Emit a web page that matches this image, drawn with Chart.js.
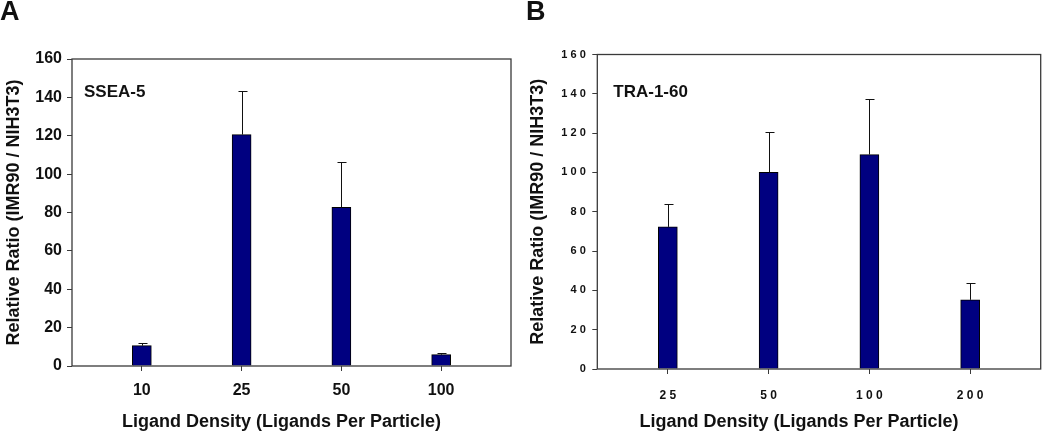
<!DOCTYPE html>
<html>
<head>
<meta charset="utf-8">
<script src="https://cdn.jsdelivr.net/npm/chart.js@4"></script>
<style>
    body { margin: 0; background: #fff; }
    #wrap { position: relative; width: 1050px; height: 435px; }
    #panelA { position: absolute; left: 0; top: 0; }
    #panelB { position: absolute; left: 520px; top: 0; }
</style>
</head>
<body>
<div id="wrap">
    <canvas id="panelA" width="520" height="435"></canvas>
    <canvas id="panelB" width="530" height="435"></canvas>
</div>
<script>
// panel A - SSEA-5
const densityA = ['10', '25', '50', '100'];
const ratioA = [10.6, 120.6, 82.7, 5.9];
const errA = [1.4, 22.8, 23.5, 0.7];

// panel B - TRA-1-60
const densityB = ['25', '50', '100', '200'];
const ratioB = [72.3, 100.0, 109.1, 35.2];
const errB = [11.4, 20.6, 28.2, 8.5];

const yTicks = [0, 20, 40, 60, 80, 100, 120, 140, 160];

const FONT = "'Liberation Sans', Arial, sans-serif";
const NAVY = '#000080';
const FRAME = '#3a3a3a';

const spaced = (s) => String(s).split('').join(' ');

// box around the plot, error bars, marker text and panel letter
const panelExtras = {
    id: 'panelExtras',
    afterDatasetsDraw(chart, args, opts) {
        const { ctx, chartArea: a } = chart;
        const xs = chart.scales.x;
        const ys = chart.scales.y;
        ctx.save();
        ctx.strokeStyle = '#111';
        ctx.lineWidth = 1;
        opts.values.forEach((v, i) => {
            const x = Math.round(xs.getPixelForValue(i)) + 0.5;
            const y0 = ys.getPixelForValue(v);
            const y1 = Math.round(ys.getPixelForValue(v + opts.errors[i])) + 0.5;
            ctx.beginPath();
            ctx.moveTo(x, y0);
            ctx.lineTo(x, y1);
            ctx.moveTo(x - 4, y1);
            ctx.lineTo(x + 5, y1);
            ctx.stroke();
        });
        ctx.strokeStyle = FRAME;
        ctx.lineWidth = 1.3;
        ctx.strokeRect(a.left, a.top, a.right - a.left, a.bottom - a.top);

        ctx.fillStyle = '#111';
        ctx.textBaseline = 'alphabetic';
        ctx.textAlign = 'left';
        ctx.font = `bold 17px ${FONT}`;
        ctx.fillText(opts.marker, a.left + opts.markerDx, 97);
        ctx.font = `bold 27px ${FONT}`;
        ctx.fillText(opts.letter, opts.letterX, 20);
        ctx.restore();
    },
};

function makePanel(canvasId, cfg) {
    const ticksFont = { family: FONT, size: cfg.tickSize, weight: 'bold' };
    const titleFont = { family: FONT, size: 18, weight: 'bold' };
    return new Chart(document.getElementById(canvasId), {
        type: 'bar',
        data: {
            datasets: [{
                data: cfg.values.map((v, i) => ({ x: i, y: v })),
                backgroundColor: NAVY,
                borderColor: '#000',
                borderWidth: 1,
                barThickness: 19,
            }],
        },
        options: {
            responsive: false,
            animation: false,
            layout: { padding: { top: cfg.top, right: cfg.right, left: 0, bottom: 0 } },
            plugins: {
                legend: { display: false },
                tooltip: { enabled: false },
                panelExtras: {
                    values: cfg.values,
                    errors: cfg.errors,
                    marker: cfg.marker,
                    markerDx: cfg.markerDx,
                    letter: cfg.letter,
                    letterX: cfg.letterX,
                },
            },
            scales: {
                x: {
                    type: 'linear',
                    min: -0.7,
                    max: 3.7,
                    offset: false,
                    afterBuildTicks: (scale) => {
                        scale.ticks = cfg.labels.map((_, i) => ({ value: i }));
                    },
                    afterFit: (scale) => { scale.height = cfg.xHeight; },
                    grid: { display: true, drawOnChartArea: false, offset: false, tickLength: 5, color: FRAME },
                    border: { display: false },
                    ticks: {
                        font: { ...ticksFont, size: cfg.xTickSize },
                        color: '#111',
                        padding: cfg.xPad,
                        callback: (v) => cfg.fmt(cfg.labels[v]),
                    },
                    title: {
                        display: true,
                        text: cfg.xTitle,
                        font: titleFont,
                        color: '#111',
                        padding: { top: 0, bottom: 2 },
                    },
                },
                y: {
                    min: 0,
                    max: 160,
                    afterBuildTicks: (scale) => {
                        scale.ticks = yTicks.map((v) => ({ value: v }));
                    },
                    afterFit: (scale) => { scale.width = cfg.yWidth; },
                    grid: { display: true, drawOnChartArea: false, tickLength: 5, color: FRAME },
                    border: { display: false },
                    ticks: {
                        font: ticksFont,
                        color: '#111',
                        padding: cfg.yPad,
                        callback: (v) => cfg.fmt(v),
                    },
                    title: {
                        display: true,
                        text: 'Relative Ratio (IMR90 / NIH3T3)',
                        font: titleFont,
                        color: '#111',
                        padding: { top: cfg.yTitlePad, bottom: 0 },
                    },
                },
            },
        },
        plugins: [panelExtras],
    });
}

document.addEventListener('DOMContentLoaded', () => {
    makePanel('panelA', {
        labels: densityA,
        values: ratioA,
        errors: errA,
        marker: 'SSEA-5',
        markerDx: 12,
        letter: 'A',
        letterX: 0,
        fmt: (s) => String(s),
        tickSize: 16,
        xTickSize: 16,
        top: 59,
        right: 9,
        yWidth: 72,
        xHeight: 69,
        xPad: 10,
        yPad: 5,
        yTitlePad: 3,
        xTitle: 'Ligand Density (Ligands Per Particle)\u00a0\u00a0\u00a0\u00a0',
    });

    makePanel('panelB', {
        labels: densityB,
        values: ratioB,
        errors: errB,
        marker: 'TRA-1-60',
        markerDx: 16,
        letter: 'B',
        letterX: 6,
        fmt: spaced,
        tickSize: 11,
        xTickSize: 12,
        top: 54.5,
        right: 9.3,
        yWidth: 77.3,
        xHeight: 66,
        xPad: 14,
        yPad: 6.5,
        yTitlePad: 7,
        xTitle: 'Ligand Density (Ligands Per Particle)\u00a0\u00a0\u00a0\u00a0\u00a0\u00a0\u00a0\u00a0',
    });
});
</script>
</body>
</html>
